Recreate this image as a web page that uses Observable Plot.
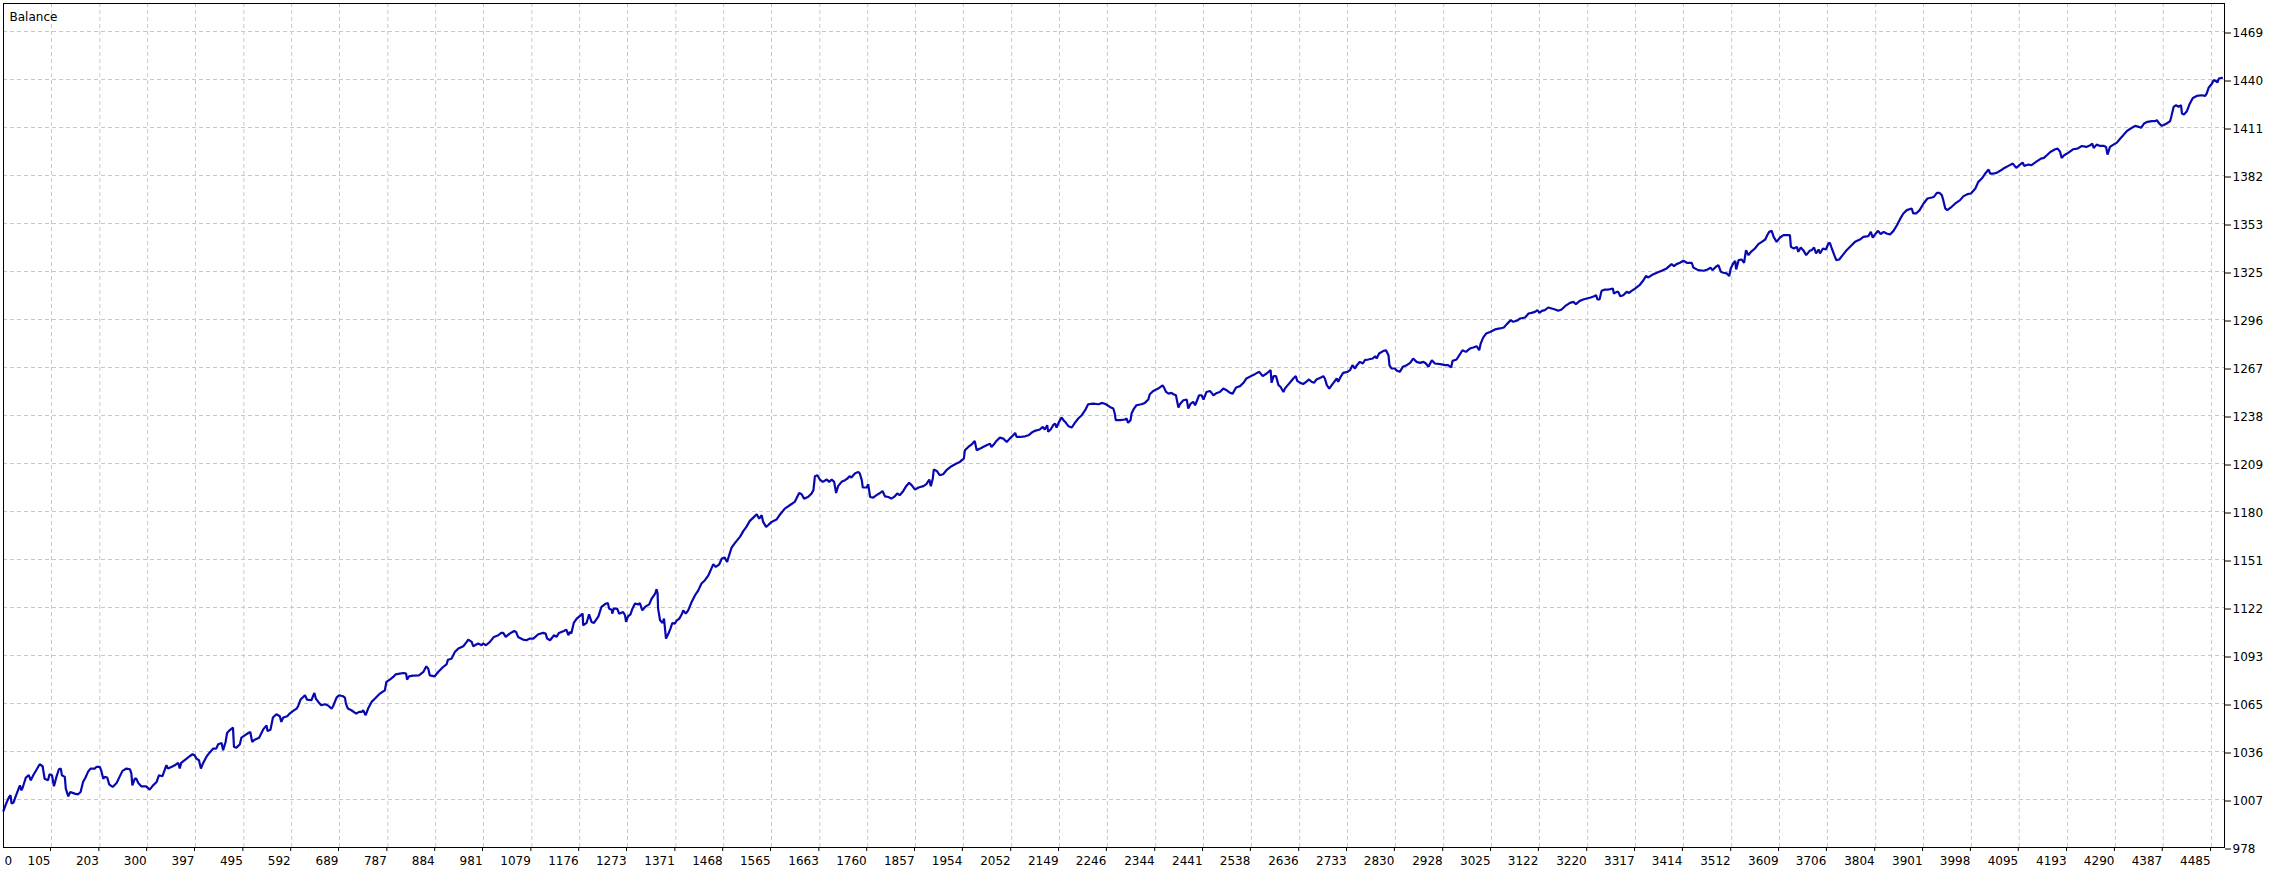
<!DOCTYPE html>
<html>
<head>
<meta charset="utf-8">
<script src="https://cdn.jsdelivr.net/npm/d3@7"></script>
<script src="https://cdn.jsdelivr.net/npm/@observablehq/plot@0.6"></script>
<style>
  html, body { margin: 0; padding: 0; background: #ffffff; }
  #chart svg { display: block; }
</style>
</head>
<body>
<div id="chart"></div>
<script>
// ---- chart data ----
const title = "Balance";

const xLabels = ["0","105","203","300","397","495","592","689","787","884","981","1079","1176","1273","1371","1468","1565","1663","1760","1857","1954","2052","2149","2246","2344","2441","2538","2636","2733","2830","2928","3025","3122","3220","3317","3414","3512","3609","3706","3804","3901","3998","4095","4193","4290","4387","4485"];

const yLabels = ["978","1007","1036","1065","1093","1122","1151","1180","1209","1238","1267","1296","1325","1353","1382","1411","1440","1469"];
const yMin = 978;
const yStep = 28.88;

const trades = [
  7,13,19,22,24,28,32,37,41,44,47,53,59,63,68,74,81,87,91,98,
  101,106,110,115,120,124,126,132,134,139,143,152,159,164,169,174,179,184,193,196,
  203,206,210,213,218,222,229,237,243,249,257,264,267,269,274,277,281,287,297,304,
  311,318,323,330,338,341,348,355,362,365,368,379,385,391,395,399,404,408,412,419,
  425,433,439,443,450,453,458,461,466,473,475,480,487,490,497,504,508,512,517,526,
  534,541,543,549,554,561,568,571,575,583,588,595,602,605,610,619,623,632,638,641,
  646,652,659,665,673,676,683,688,696,700,702,706,713,723,729,734,737,742,747,754,
  761,771,781,784,791,798,803,811,819,824,826,830,838,850,
  852,859,865,869,872,882,889,899,906,909,916,923,930,940,947,950,957,960,970,977,
  980,986,994,1002,1011,1017,1021,1026,1034,1043,1047,1051,1061,1068,1075,1082,1092,1102,1107,1110,
  1116,1124,1129,1134,1144,1149,1153,1156,1159,1164,1170,1178,1182,1183,1190,1195,1200,1205,1214,1220,
  1229,1233,1236,1241,1242,1245,1252,1256,1264,1268,1270,1274,1279,1283,1288,1295,1298,1303,1310,1317,
  1322,1329,1332,1334,1335,1339,1344,1347,1349,1351,1356,1360,1364,1369,1372,1378,1383,1386,1391,1396,
  1403,1410,1416,1423,1430,1437,1443,1447,1452,1459,1464,1470,1475,1479,1484,1491,1501,1508,1514,1521,
  1528,1535,1540,1545,1548,1554,1558,1565,1575,1581,1592,1602,1612,1621,1626,1631,1639,1646,
  1650,1653,1658,1663,1669,1677,1682,1687,1692,1696,1700,1707,1714,1719,1723,1727,1734,1741,1744,1748,
  1750,1758,1761,1765,1771,1778,1785,1790,1795,1802,1808,1815,1820,1825,1831,1838,1844,1849,1856,1863,
  1873,1879,1885,1888,1892,1894,1900,1906,1913,1921,1930,1940,1947,1952,1955,1957,1964,1971,1977,1981,
  1988,1994,2001,2008,2011,2016,2021,2028,2035,2042,2048,2055,2059,2062,2069,2079,2086,2092,2099,2109,
  2115,2119,2124,2126,2131,2136,2140,2143,2148,2153,2157,2162,2167,2174,2180,2187,2194,2201,2207,2217,
  2228,2236,2243,2251,2258,2261,2263,2272,2282,2285,2288,2293,2295,2300,2305,2315,2322,2329,2332,2339,
  2349,2358,2361,2365,2370,2376,2380,2385,2390,2393,2400,2407,2410,2415,2420,2424,2428,2432,2437,2441,
  2447,2454,2461,2468,2474,
  2481,2488,2495,2500,2507,2515,2522,2528,2537,2545,2554,2561,2569,2577,2579,2583,2588,2593,2597,2603,
  2606,2610,2616,2623,2628,2631,2637,2643,2649,2655,2660,2665,2670,2679,2684,2687,2691,2696,2701,2706,
  2711,2714,2719,2724,2733,2738,2743,2748,2752,2758,2764,2768,2775,2784,2789,2792,2797,2806,2811,2816,
  2818,2822,2829,2833,2839,2845,2853,2860,2866,2873,2880,2887,2892,2897,2904,2910,2921,2931,2937,2943,
  2946,2954,2961,2966,2973,2981,2988,2995,3000,3003,3008,3014,3022,3032,3042,3050,3056,3064,3069,3076,
  3083,3093,3100,3106,3113,3118,3122,3127,3133,3140,3147,3154,3160,3167,3174,3184,3191,3196,3204,3211,
  3218,3226,3233,3237,3240,3244,3248,3255,3262,3271,3273,3279,3282,3286,3292,3299,3304,3309,3316,3325,
  3333,3338,3343,3350,3360,3370,3380,3390,3395,3400,3407,3414,3421,3431,3434,3444,3455,3463,3469,3473,
  3480,3485,3490,3495,3502,3507,3510,3515,3519,3521,3526,3532,3537,3541,3546,3551,3559,3566,3573,3580,
  3584,3588,3593,3597,3603,3610,3617,3624,3630,3632,3638,3644,3647,3652,3657,3663,3670,3674,3679,3683,
  3688,3691,3697,3703,3708,3711,3715,3720,3724,3730,3737,3745,3753,3762,3772,3779,3789,3794,3798,3805,
  3809,3814,3820,3826,3833,3840,3847,3853,3860,3867,3877,3880,3886,3893,3901,3909,3918,3922,3928,3933,
  3938,3941,3945,3949,3958,3967,3975,3982,3990,3997,4006,4012,4019,4026,4033,4036,4043,4049,4058,
  4063,4073,4082,4089,4095,4102,4105,4114,4120,4129,4139,4145,4151,4158,4168,4173,4178,4181,4186,4195,
  4204,4213,4222,4231,4239,4243,4246,4252,4259,4267,4271,4274,4279,4286,4293,4300,4306,4313,4321,4330,
  4337,4342,4348,4355,4364,4371,4374,4379,4384,4387,4394,4401,4404,4408,4413,4418,4423,4425,4429,4435,
  4440,4447,4455,4465,4472,4475,4479,4486,4489,4494,4497,4500,4506
];

const balance = [
  1000.0,1004.4,1008.4,1009.4,1004.4,1005.0,1008.4,1012.4,1015.4,1012.4,1014.4,1020.1,1021.5,1018.4,1021.5,1024.5,1028.1,1026.9,1019.4,1018.4,
  1022.1,1021.5,1014.8,1020.5,1025.1,1025.5,1021.5,1020.5,1013.4,1008.8,1011.4,1010.4,1010.0,1011.4,1017.4,1020.1,1023.5,1025.5,1025.5,1026.5,
  1026.5,1024.1,1019.4,1020.5,1020.1,1016.0,1014.4,1016.8,1020.5,1024.1,1025.5,1025.1,1022.5,1015.4,1019.4,1019.4,1016.8,1014.8,1014.8,1012.8,
  1015.4,1017.4,1021.5,1020.9,1027.5,1025.5,1026.5,1027.5,1028.9,1025.5,1028.9,1031.5,1032.9,1034.1,1033.5,1031.5,1030.5,1025.5,1028.5,1032.5,
  1034.9,1037.5,1037.5,1040.1,1040.9,1036.5,1041.5,1046.9,1048.5,1050.1,1038.5,1038.1,1040.1,1044.1,1045.5,1046.9,1047.5,1041.5,1042.9,1044.1,
  1048.9,1051.5,1048.1,1048.9,1056.2,1058.2,1057.0,1053.6,1056.2,1057.0,1058.6,1060.2,1061.6,1063.0,1067.0,1069.6,1067.0,1066.6,1071.0,1067.6,
  1065.6,1063.6,1064.2,1063.6,1061.6,1063.0,1068.2,1069.6,1069.0,1068.2,1064.6,1061.6,1060.6,1058.6,1059.6,1059.6,1060.6,1057.6,1061.6,1065.6,
  1067.6,1070.6,1072.6,1077.6,1079.0,1080.6,1082.2,1082.6,1083.0,1082.6,1079.0,1081.0,1081.4,1081.6,
  1082.0,1083.6,1087.0,1085.6,1081.6,1081.0,1083.6,1086.6,1088.2,1091.0,1091.6,1095.7,1097.7,1099.1,1101.7,1103.1,1101.7,1099.1,1100.7,1099.7,
  1100.7,1099.7,1101.7,1104.7,1105.7,1107.1,1107.1,1104.7,1106.7,1108.3,1107.7,1104.7,1103.1,1102.7,1103.7,1103.7,1106.3,1107.1,1106.7,1103.7,
  1102.7,1105.7,1104.7,1107.1,1108.3,1109.1,1105.7,1107.7,1106.7,1113.1,1115.7,1117.7,1118.7,1111.7,1113.1,1118.3,1113.7,1113.1,1117.1,1122.7,
  1124.7,1125.1,1121.7,1121.1,1118.7,1121.7,1121.7,1118.7,1119.7,1117.7,1113.7,1117.1,1118.3,1121.7,1124.7,1124.3,1125.1,1120.7,1123.1,1124.3,
  1127.8,1130.8,1133.4,1130.8,1121.7,1114.7,1113.1,1115.7,1109.7,1103.7,1106.7,1109.7,1113.1,1112.7,1114.3,1115.7,1118.3,1120.7,1118.7,1120.7,
  1125.7,1129.8,1132.4,1136.8,1138.8,1141.8,1145.8,1148.4,1146.8,1148.4,1151.8,1152.4,1149.8,1153.8,1158.4,1161.3,1164.9,1168.5,1170.9,1174.5,
  1176.5,1178.5,1175.9,1177.9,1173.9,1170.9,1171.9,1173.9,1175.3,1177.9,1181.9,1183.9,1185.9,1191.3,1190.5,1187.9,1188.9,1190.9,
  1193.0,1201.4,1202.0,1199.4,1198.0,1199.4,1198.0,1199.4,1198.0,1191.3,1195.4,1198.0,1199.0,1200.0,1201.4,1200.6,1203.0,1204.0,1203.0,1199.0,
  1194.6,1194.6,1196.6,1188.9,1188.5,1190.0,1191.3,1192.5,1189.3,1188.9,1187.9,1189.3,1191.0,1190.0,1192.0,1195.4,1197.4,1196.0,1193.3,1194.6,
  1195.4,1196.6,1199.4,1195.4,1200.0,1205.4,1204.6,1202.0,1202.6,1205.4,1207.4,1209.0,1210.0,1211.4,1212.0,1217.0,1219.0,1220.6,1222.6,1217.0,
  1218.0,1219.0,1220.0,1221.0,1219.0,1220.6,1222.6,1224.6,1224.0,1222.0,1224.0,1226.0,1227.5,1225.0,1225.0,1225.4,1226.0,1227.5,1228.7,1229.5,
  1231.1,1229.5,1232.1,1228.1,1229.5,1232.1,1233.1,1230.7,1234.1,1236.7,1235.1,1233.5,1231.5,1230.7,1233.5,1236.1,1238.1,1241.1,1244.7,1245.1,
  1244.7,1245.5,1244.7,1243.1,1242.1,1239.1,1235.1,1235.1,1235.5,1236.1,1233.5,1235.1,1239.1,1242.1,1244.1,1244.7,1245.5,1247.5,1250.7,1252.7,
  1254.1,1256.1,1254.7,1252.1,1251.1,1251.5,1250.7,1250.1,1242.7,1244.7,1247.1,1247.5,1242.1,1245.1,1246.1,1244.1,1247.1,1250.1,1250.1,1247.5,
  1252.1,1252.7,1250.1,1251.5,1252.1,
  1254.1,1253.1,1251.5,1251.1,1254.8,1255.6,1257.6,1260.2,1261.6,1262.8,1264.2,1261.6,1263.2,1265.2,1257.6,1261.6,1261.6,1256.2,1255.2,1252.1,
  1254.1,1255.6,1257.6,1260.2,1261.6,1258.8,1257.6,1256.8,1258.2,1259.6,1258.2,1257.6,1259.6,1260.8,1261.6,1260.2,1256.2,1254.1,1256.2,1258.2,
  1260.2,1258.2,1261.2,1263.6,1264.2,1265.2,1268.2,1266.2,1268.2,1270.2,1269.2,1271.2,1271.6,1272.2,1273.6,1272.2,1275.2,1276.8,1277.2,1274.2,
  1268.2,1266.2,1266.2,1264.8,1264.2,1267.2,1268.2,1269.6,1272.2,1270.2,1269.6,1270.2,1269.2,1267.2,1271.2,1269.2,1268.8,1268.2,1268.2,1266.8,
  1270.8,1271.6,1274.8,1277.2,1276.2,1278.2,1278.8,1279.6,1277.2,1281.2,1284.8,1287.2,1288.2,1289.7,1290.3,1290.9,1292.9,1295.3,1294.3,1294.9,
  1296.3,1296.9,1299.3,1299.7,1300.3,1301.3,1299.7,1300.9,1301.3,1302.9,1302.3,1301.7,1300.9,1301.7,1303.7,1305.7,1306.3,1304.9,1306.9,1307.7,
  1308.3,1308.9,1309.7,1310.3,1307.7,1307.7,1312.9,1313.7,1313.7,1314.3,1311.3,1312.3,1312.3,1309.7,1310.3,1312.3,1311.7,1312.9,1314.3,1316.3,
  1319.3,1321.8,1321.0,1322.4,1323.8,1325.0,1326.4,1329.0,1327.8,1329.0,1329.8,1331.0,1329.8,1329.8,1327.0,1325.4,1325.0,1325.8,1326.8,1325.4,
  1327.4,1328.4,1324.4,1323.8,1323.4,1321.8,1326.4,1329.4,1331.0,1325.8,1331.4,1331.8,1329.8,1337.4,1334.4,1336.4,1338.4,1341.0,1342.4,1343.8,
  1346.4,1348.4,1349.0,1345.4,1342.4,1345.0,1346.4,1346.4,1346.4,1339.4,1338.4,1339.4,1336.4,1339.0,1337.4,1334.4,1337.0,1337.4,1339.0,1335.4,
  1337.8,1335.4,1338.4,1337.8,1341.4,1341.8,1338.4,1334.4,1331.4,1331.8,1334.4,1337.4,1339.8,1342.4,1343.8,1345.4,1345.8,1348.4,1345.0,1347.8,
  1349.0,1347.0,1348.4,1347.4,1346.8,1349.0,1352.4,1355.9,1359.5,1361.5,1362.5,1359.5,1359.5,1361.5,1365.5,1368.5,1369.1,1369.5,1371.9,1371.9,
  1370.5,1367.5,1362.5,1361.5,1363.5,1365.9,1367.5,1369.9,1371.1,1371.5,1374.5,1378.5,1380.5,1383.5,1385.9,1383.5,1383.5,1383.9,1385.5,
  1386.5,1388.1,1389.5,1386.9,1388.5,1390.1,1388.1,1388.9,1388.5,1390.5,1392.5,1392.9,1394.5,1396.5,1398.1,1398.5,1396.5,1392.9,1394.5,1396.1,
  1398.1,1398.5,1400.1,1399.5,1400.5,1401.5,1398.9,1400.9,1400.1,1400.1,1399.5,1394.9,1399.5,1400.9,1402.1,1404.6,1406.6,1409.0,1410.6,1412.2,
  1411.6,1411.0,1413.6,1414.6,1415.0,1415.0,1415.6,1413.6,1412.2,1412.6,1413.6,1415.0,1418.6,1423.6,1424.6,1423.6,1424.6,1419.6,1419.0,1421.0,
  1425.0,1429.0,1430.2,1430.6,1430.2,1431.6,1435.1,1437.7,1439.7,1439.1,1438.3,1440.7,1441.1
];

// ---- build tables for the library ----
const data = trades.map((t, i) => ({trade: t, balance: balance[i]}));
const xTicks = xLabels.map(Number);
const xLabelOf = new Map(xLabels.map(l => [Number(l), l]));
const yTicks = yLabels.map((_, i) => yMin + i * yStep);
const yLabelOf = new Map(yTicks.map((v, i) => [v, yLabels[i]]));

const W = 2289, H = 871;
const mL = 3, mT = 3, mR = 65, mB = 24;
const plotH = H - mT - mB;
const plotW = W - mL - mR;
const pxPerStepX = 48, pxPerStepY = 48;
const xStart = 7.67, xStepPer = 97.33;

const gridStyle = {stroke: "#c8c8c8", strokeOpacity: 1, strokeWidth: 1, strokeDasharray: "4,3"};

const chart = Plot.plot({
  width: W,
  height: H,
  marginLeft: mL,
  marginTop: mT,
  marginRight: mR,
  marginBottom: mB,
  style: {fontFamily: "'DejaVu Sans', Verdana, sans-serif", fontSize: "12px", background: "#ffffff", color: "#000000"},
  x: {type: "linear", domain: [xStart, xStart + plotW * xStepPer / pxPerStepX], clamp: true, axis: null, label: null},
  y: {type: "linear", domain: [yMin, yMin + plotH * yStep / pxPerStepY], axis: null, label: null},
  marks: [
    Plot.gridX(xTicks.slice(1), gridStyle),
    Plot.gridY(yTicks.slice(1), gridStyle),
    Plot.line(data, {x: "trade", y: "balance", stroke: "#0808b0", strokeWidth: 2.2, strokeLinejoin: "miter"}),
    Plot.frame({stroke: "#000000", strokeWidth: 1}),
    Plot.axisX(xTicks.slice(1), {anchor: "bottom", tickSize: 4, tickPadding: 4.5, textAnchor: "end", dx: -1,
      tickFormat: d => xLabelOf.get(d), stroke: "#000000", fill: "#000000", fontVariant: "normal", label: null}),
    Plot.axisX(xTicks.slice(0, 1), {anchor: "bottom", tickSize: 0, tickPadding: 8.5, textAnchor: "start", dx: 1,
      tickFormat: d => xLabelOf.get(d), fill: "#000000", fontVariant: "normal", label: null}),
    Plot.axisY(yTicks, {anchor: "right", tickSize: 6, tickPadding: 2, dy: 1.5,
      tickFormat: d => yLabelOf.get(d), stroke: "#000000", fill: "#000000", fontVariant: "normal", label: null}),
    Plot.text([title], {frameAnchor: "top-left", textAnchor: "start", lineAnchor: "top", dx: 6, dy: 9, fill: "#000000"})
  ]
});

document.getElementById("chart").appendChild(chart);
</script>
</body>
</html>
